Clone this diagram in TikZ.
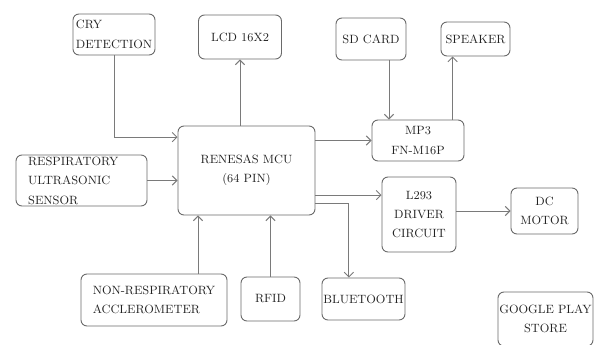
\documentclass[tikz,border=0pt]{standalone}
\usepackage{xcolor}
\usepackage{tikz}
\usetikzlibrary{positioning,arrows.meta}
\definecolor{boxline}{HTML}{6A6A6A}
\definecolor{wire}{HTML}{7A7A7A}
\definecolor{ink}{HTML}{222222}
\tikzset{
  block/.style={draw=boxline, rounded corners=4.5pt, line width=0.7pt,
    inner sep=1pt, align=center, text=ink,
    font=\fontsize{9}{14.5}\selectfont},
  arr/.style={draw=wire, line width=0.7pt,
    -{Straight Barb[length=3.5pt,width=7pt]}}
}
\begin{document}
\begin{tikzpicture}[x=0.75pt,y=-0.75pt]
\useasboundingbox (0,0) rectangle (600,344);

% blocks
\node[block, minimum width=61.5pt, minimum height=30.75pt, align=left] (cry) at (114,34.5) {CRY\\DETECTION};
\node[block, minimum width=62.25pt, minimum height=33pt] (lcd) at (240,37) {LCD 16X2};
\node[block, minimum width=52.5pt, minimum height=31.5pt] (sd) at (371,39) {SD CARD};
\node[block, minimum width=51.75pt, minimum height=25.5pt] (spk) at (475.5,39) {SPEAKER};
\node[block, minimum width=102.75pt, minimum height=66.75pt] (mcu) at (246.5,170.5) {RENESAS MCU\\(64 PIN)};
\node[block, minimum width=69pt, minimum height=30.75pt] (mp3) at (418,140.5) {MP3\\FN-M16P};
\node[block, minimum width=98.25pt, minimum height=38.25pt, align=left, text width=80pt, inner xsep=9pt] (resp) at (81.5,180.5) {RESPIRATORY\\ULTRASONIC\\SENSOR};
\node[block, minimum width=55.5pt, minimum height=56.25pt] (drv) at (419,214.5) {L293\\DRIVER\\CIRCUIT};
\node[block, minimum width=50.25pt, minimum height=34.5pt] (dc) at (544.5,211) {DC\\MOTOR};
\node[block, minimum width=109.5pt, minimum height=39pt, align=left] (acc) at (154,300) {NON-RESPIRATORY\\ACCLEROMETER};
\node[block, minimum width=44.25pt, minimum height=33pt] (rfid) at (270.5,299) {RFID};
\node[block, minimum width=57.75pt, minimum height=31.5pt] (bt) at (363.5,299) {BLUETOOTH};
\node[block, minimum width=68.25pt, minimum height=40.5pt] (gps) at (545.5,319) {GOOGLE PLAY\\STORE};

% tap points
\coordinate (cryin) at ([yshift=25pt]mcu.west);
\coordinate (sdout) at ([xshift=13.5pt]sd.south);
\coordinate (mp3out) at ([xshift=26pt]mp3.north);
\coordinate (drvout) at ([yshift=-18.4pt]mcu.east);
\coordinate (btout) at ([yshift=-25pt]mcu.east);
\coordinate (btin) at ([xshift=-11pt]bt.north);
\coordinate (accout) at ([xshift=33pt]acc.north);

% connectors
\draw[arr] (cry.south) |- (cryin);
\draw[arr] (mcu.north -| lcd.south) -- (lcd.south);
\draw[arr] (mcu.east |- mp3.west) -- (mp3.west);
\draw[arr] (sdout) -- (sdout |- mp3.north);
\draw[arr] (mp3out) -- (mp3out |- spk.south);
\draw[arr] (resp.east) -- (resp.east -| mcu.west);
\draw[arr] (drvout) -- (drvout -| drv.west);
\draw[arr] (btout) -| (btin);
\draw[arr] (drv.east |- dc.west) -- (dc.west);
\draw[arr] (accout) -- (accout |- mcu.south);
\draw[arr] (rfid.north) -- (rfid.north |- mcu.south);
\end{tikzpicture}
\end{document}
